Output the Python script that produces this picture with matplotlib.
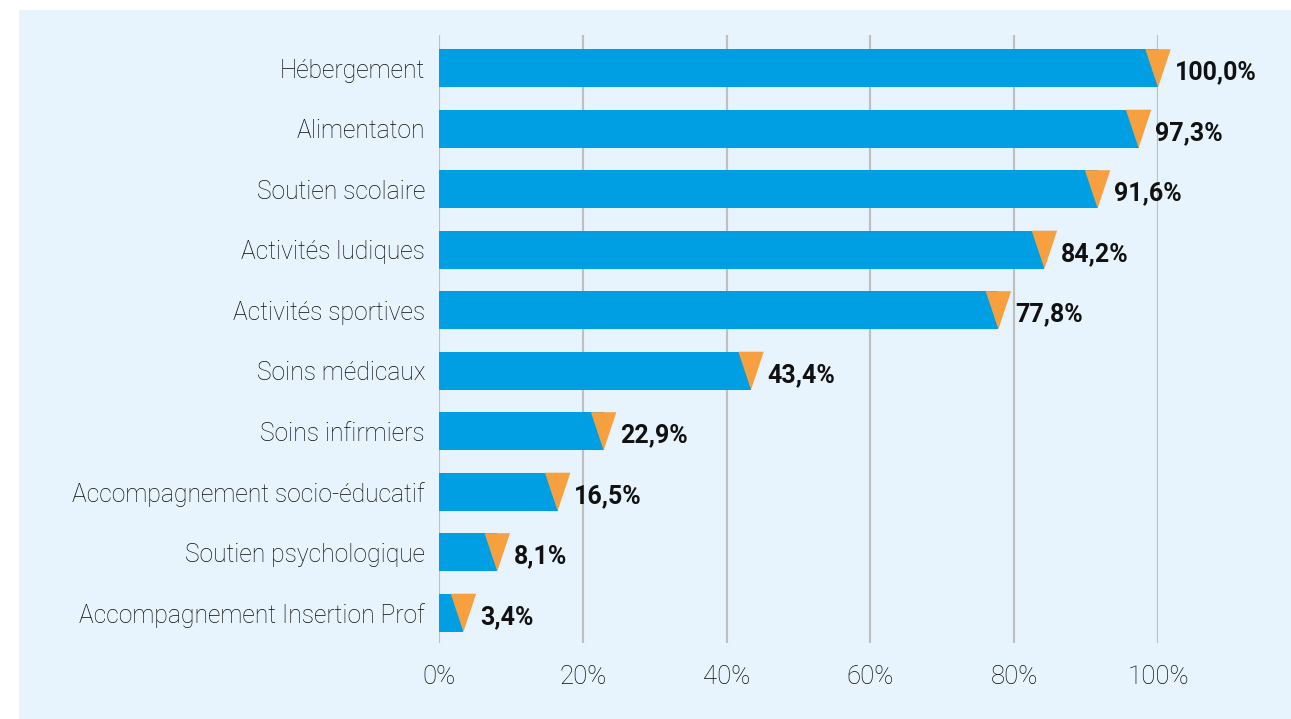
import matplotlib.pyplot as plt
from matplotlib.patches import Rectangle, Polygon

categories = [
    "Hébergement",
    "Alimentaton",
    "Soutien scolaire",
    "Activités ludiques",
    "Activités sportives",
    "Soins médicaux",
    "Soins infirmiers",
    "Accompagnement socio-éducatif",
    "Soutien psychologique",
    "Accompagnement Insertion Prof",
]
values = [100.0, 97.3, 91.6, 84.2, 77.8, 43.4, 22.9, 16.5, 8.1, 3.4]
ticks = [0, 20, 40, 60, 80, 100]
tick_labels = ["0%", "20%", "40%", "60%", "80%", "100%"]

blue = "#009fe3"
orange = "#f6a040"
panel = "#e8f4fd"
text_col = "#0a0a0a"

fig = plt.figure(figsize=(12.91, 7.19), dpi=100)
fig.patch.set_facecolor("white")
fig.patches.append(Rectangle((19 / 1291, 0), 1 - 19 / 1291, 1 - 10 / 719,
                             transform=fig.transFigure, facecolor=panel,
                             edgecolor="none", zorder=-5))

ax = fig.add_axes([439 / 1291, 76 / 719, 719 / 1291, 608 / 719])
ax.set_facecolor("none")

bar_h = 0.63
tip = 1.77
y = list(range(len(categories)))
ax.barh(y, values, height=bar_h, color=blue, zorder=3)

# orange pencil tip at the end of each bar
for yi, v in zip(y, values):
    top = yi - bar_h / 2
    bottom = yi + bar_h / 2
    ax.add_patch(Polygon([(v - tip, top), (v + tip, top), (v, bottom)],
                         closed=True, facecolor=orange, edgecolor="none",
                         zorder=4, clip_on=False))
    ax.annotate(f"{v:.1f}%".replace(".", ","), xy=(v, yi), xytext=(12, -3),
                textcoords="offset points", va="center", ha="left",
                fontsize=18, fontweight="bold", family="Roboto",
                color="#111111", zorder=5)

ax.set_xlim(0, 100)
ax.set_ylim(9.5, -0.55)
ax.set_xticks(ticks)
ax.set_xticklabels(tick_labels, family="Roboto", fontweight="light",
                   fontsize=18.5, color=text_col)
ax.set_yticks(y)
ax.set_yticklabels(categories, family="Roboto", fontweight="light",
                   fontsize=17.7, color=text_col)
ax.tick_params(axis="both", length=0)
ax.tick_params(axis="y", pad=10)
ax.tick_params(axis="x", pad=16)
ax.grid(axis="x", color="#bfbfbf", linewidth=1.6, zorder=1)
for s in ax.spines.values():
    s.set_visible(False)

fig.savefig("out.png", dpi=100, facecolor=fig.get_facecolor())
